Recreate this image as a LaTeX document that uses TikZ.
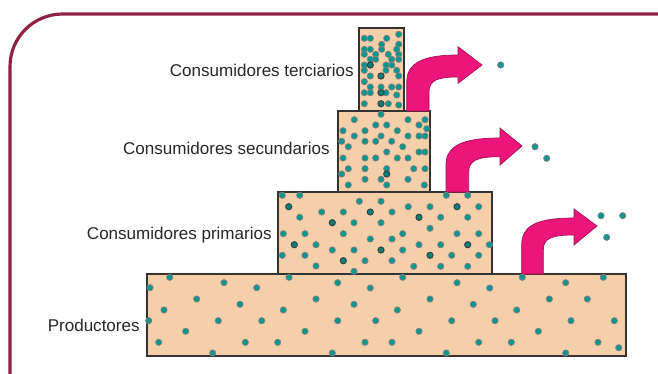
\documentclass[tikz,border=0pt]{standalone}
\usepackage{fontspec}
\setmainfont{Liberation Sans}
\definecolor{frameRed}{RGB}{142,34,66}
\definecolor{tierFill}{RGB}{245,207,170}
\definecolor{dotTeal}{RGB}{0,152,140}
\definecolor{arrowPink}{RGB}{236,22,122}
\tikzset{
  tier/.style={draw=black!80, line width=1.1pt, fill=tierFill},
  lbl/.style={anchor=east, inner sep=0pt, font=\fontsize{9.7}{11}\selectfont, text=black!85},
  flow/.style={fill=arrowPink, draw=arrowPink!70!black, line width=0.4pt},
  dot/.style={fill=dotTeal, draw=black!50, line width=0.45pt},
  darkdot/.style={fill=dotTeal!85!black, draw=black!75, line width=0.55pt}
}
\begin{document}
\begin{tikzpicture}[x=0.02cm, y=-0.02cm]
  \useasboundingbox (0,0) rectangle (658,373);
  % frame
  \draw[frameRed, line width=1.8pt, rounded corners=1.05cm] (10,14) rectangle (720,430);
  % tiers
  \draw[tier] (147,274) rectangle (626,356);
  \draw[tier] (278,192) rectangle (492,274);
  \draw[tier] (338,111) rectangle (430,192);
  \draw[tier] (359,28) rectangle (404,111);
  % labels
  \node[lbl] (prod) at (140,325) {Productores};
  \node[lbl] (prim) at (272,235) {Consumidores primarios};
  \node[lbl] (secu) at (330,148) {Consumidores secundarios};
  \node[lbl] (terc) at (354,70) {Consumidores terciarios};
  % energy flow arrows
  \draw[flow] (406.7,111) -- (406.7,82) .. controls (406.7,62) and (425,55) .. (458,55)
    -- (458,46.7) -- (482,65) -- (458,83.3) -- (458,77)
    .. controls (438,77) and (429,80) .. (429,92) -- (429,111) -- cycle;
  \draw[flow] (446,192) -- (446,165) .. controls (446,145) and (464,138) .. (500,138)
    -- (500,128) -- (522,146) -- (500,165) -- (500,156.7)
    .. controls (478,156.7) and (468.7,160) .. (468.7,172) -- (468.7,192) -- cycle;
  \draw[flow] (521.7,274) -- (521.7,245) .. controls (521.7,225) and (538,218) .. (574,218)
    -- (574,209) -- (597,226) -- (574,245) -- (574,235)
    .. controls (552,235) and (543.3,238) .. (543.3,250) -- (543.3,274) -- cycle;
  % dots, productores
  \foreach \x/\y in {169.7/277.3,150/287.7,224/282.7,256.7/287.7,289/277.3,196.7/299,
      240/304.3,164/310,283.3/310,148.7/320.7,218.3/320.7,261.7/320.7,185.7/331.3,
      305/331.3,158.7/342.3,245.3/342.3,277.7/342.3,212.7/353,
      402.7/277.3,337.7/282.7,370.3/288,457/282.7,316/299,354/304.3,430/299,397.3/310,
      337.7/320.7,375.7/320.7,451.7/320.7,419/331.3,365/342.3,392/342.3,332.3/353,446.3/353,
      522.3/277.3,565.7/282.7,603.3/277.3,489.7/288,473.3/304.3,549.3/299,587.3/299,
      516.7/310,495/320.7,571/320.7,614.3/320.7,538.3/331.3,478.7/342.3,511.3/342.3,
      598/342.3,618.7/347.7,565.7/353}
    \fill[dot] (\x,\y) circle[radius=0.062cm];
  % dots, primarios
  \foreach \x/\y in {282.3/195.3,299.7/195.3,359.3/201.3,381/201.3,321.7/212,343.3/212,
      299.7/217.3,354/222.7,381/222.7,283.3/233.7,305/233.7,343.3/233.7,370.3/239,
      316/244.7,332.3/250,354/250,282.3/255.3,305/255.3,365/260.7,316/266,354/271.3,
      446.3/195.3,467.7/195.3,408.3/206.7,430/206.7,478.7/206.7,392/212,440.7/217.3,
      467.7/217.3,430/228.3,402.7/233.7,457/233.7,478.7/233.7,392/239,402.7/250,
      419/244.7,440.7/244.7,489.3/244.7,392/260.7,451.7/255.3,478.7/255.3,413.7/266.3,
      440.7/266.3,467.7/266.3}
    \fill[dot] (\x,\y) circle[radius=0.062cm];
  \foreach \x/\y in {288.7/206.7,370.3/212,332.3/222.7,294.3/244.7,381/250,343.3/260.7,
      457/206.7,419/217.3,467.7/244.7,430/255.3}
    \fill[darkdot] (\x,\y) circle[radius=0.062cm];
  % dots, secundarios
  \foreach \x/\y in {381/114.3,354.3/119.7,375.7/125,386.7/125,408/119.7,425/119.7,
      419/125,426.7/128.7,343/130.7,365/130.7,397.3/130.7,354.3/136,381/136,408/136,
      419/136,425/136,341.7/141.3,365/141.3,375.7/141.3,391.7/141.3,348.3/146.7,
      402.7/146.7,386.7/152,419/152,425/152,343/158,365/158,375.7/158,397.3/158,408/158,
      348.3/168.7,365/168.7,386.7/168.7,413.7/168.7,425/168.7,341.7/174,365/179.3,
      381/179.3,408/179.3,348.3/185,386.7/185,424.3/185}
    \fill[dot] (\x,\y) circle[radius=0.062cm];
  \fill[darkdot] (386.7,174) circle[radius=0.062cm];
  % dots, terciarios
  \foreach \x/\y in {364.3/38.3,370.3/38.3,386.7/38.3,398.7/34.3,381.7/44.3,398.7/44.3,
      364.3/49.3,370.3/49.3,381.7/49.3,396.7/49.3,364.3/54.3,375.7/54.3,388.3/54.3,
      398.7/54.3,370.3/59.3,375.7/59.3,391.7/59.3,398.7/59.3,364.3/65,386/65,391.7/65,
      364.3/70.3,386/70.3,396.7/70.3,370.3/76,398.7/76,364.3/81.7,370.3/87,381/87,
      391.7/87,398.7/87,364.3/92.7,370.3/92.7,386/92.7,396.7/95,364.3/103.7,388.3/103.7,
      398.7/105}
    \fill[dot] (\x,\y) circle[radius=0.062cm];
  \foreach \x/\y in {370.3/65,381/76,381/92.7,381/103.7}
    \fill[darkdot] (\x,\y) circle[radius=0.062cm];
  % escaping dots
  \foreach \x/\y in {500.7/65,535/146.7,546.7/158.3,601/215.7,622.7/215.7,606.7/237.3}
    \fill[dot] (\x,\y) circle[radius=0.062cm];
\end{tikzpicture}
\end{document}
